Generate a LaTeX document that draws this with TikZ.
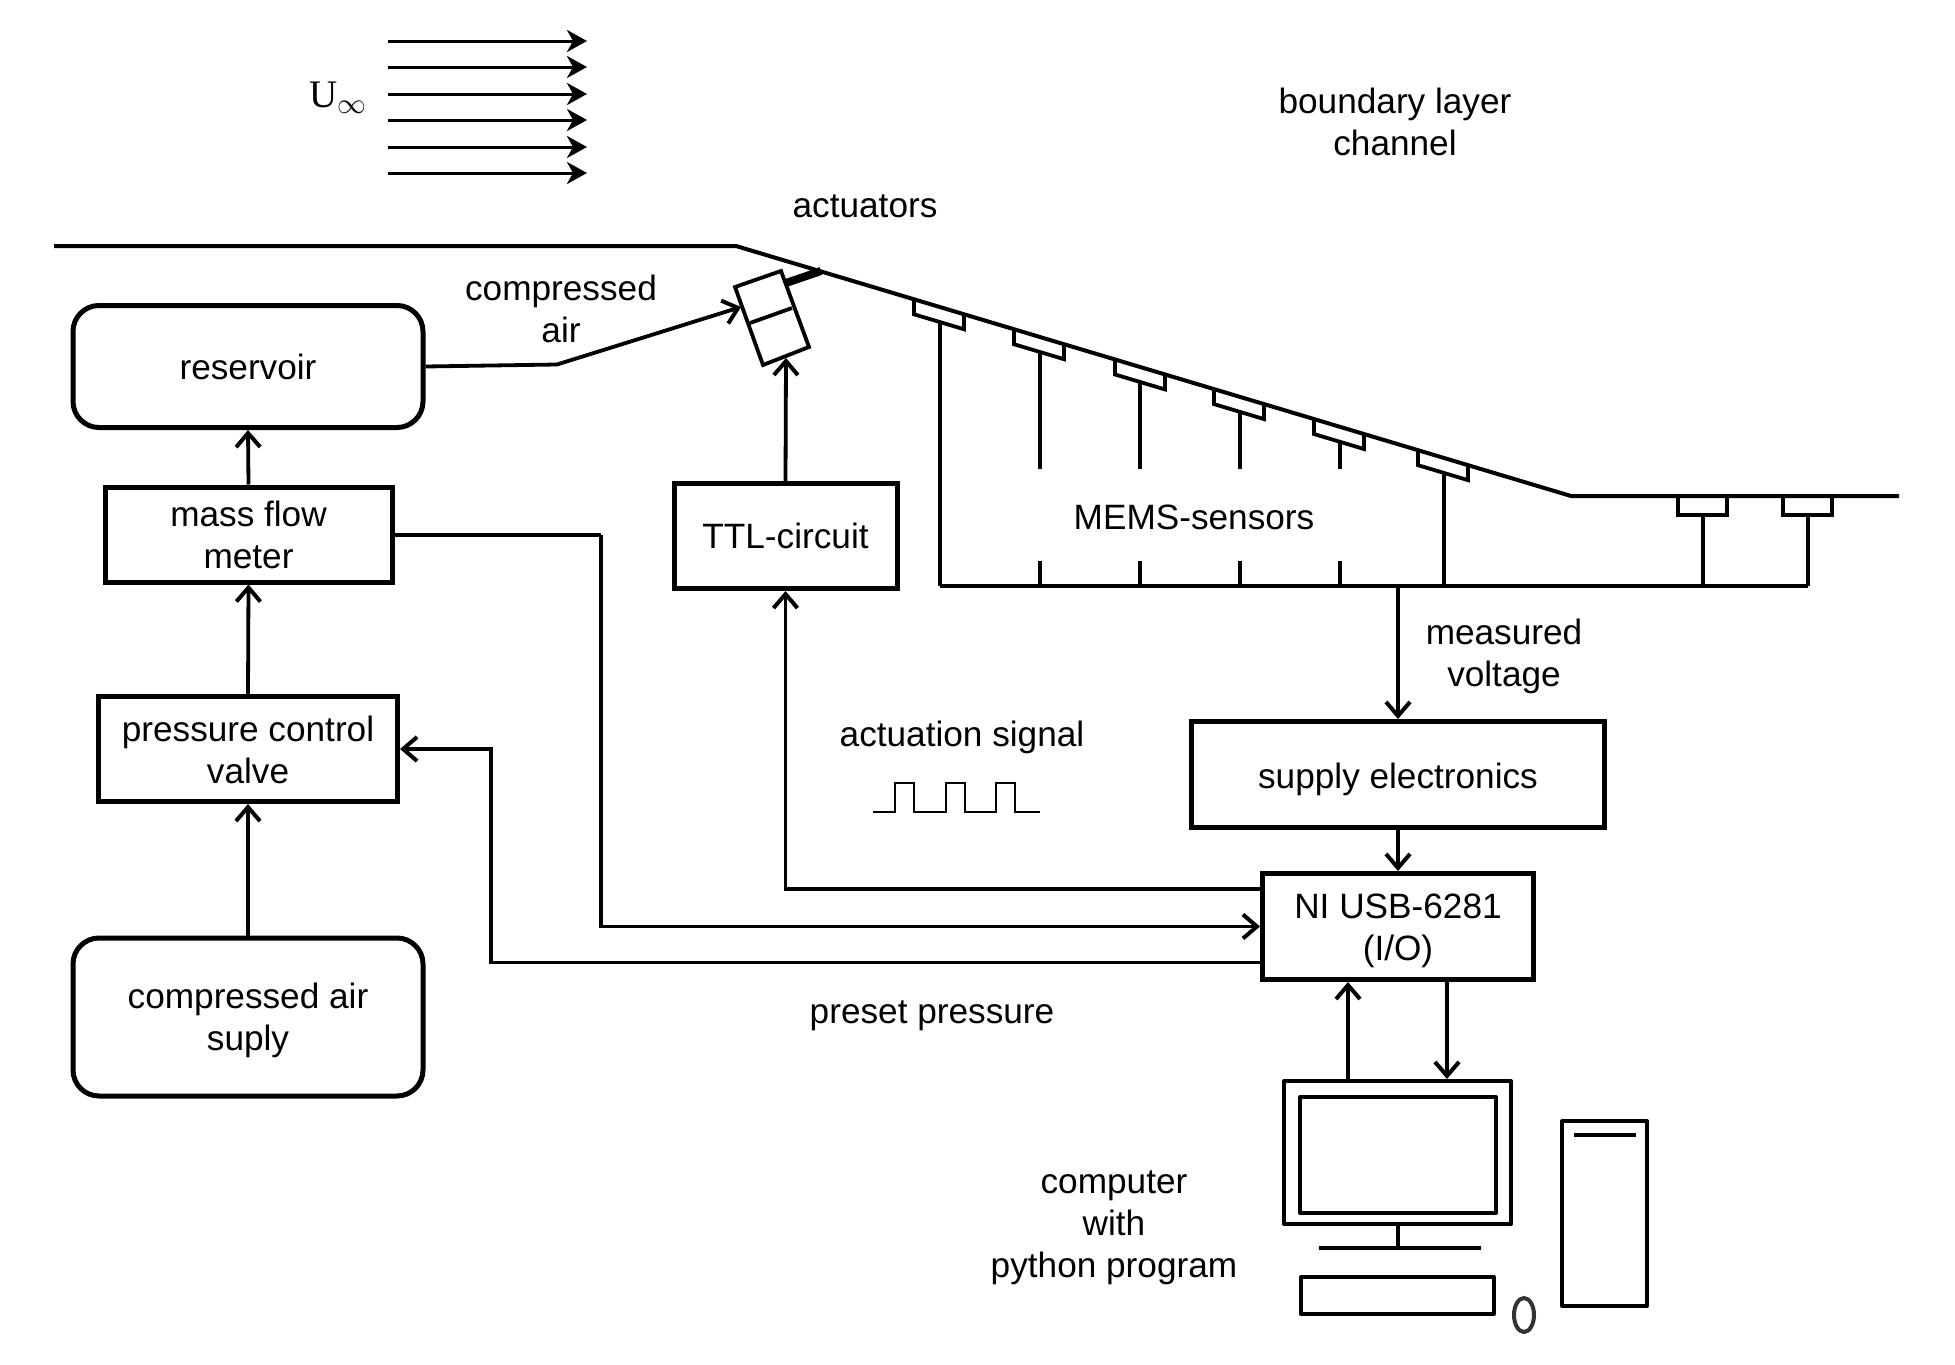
\documentclass[tikz,border=0pt]{standalone}
\usepackage{fontspec}
\setmainfont{Liberation Sans}
\newfontfamily\ufont{Liberation Serif}
\usetikzlibrary{arrows.meta,calc,shapes.geometric}
\newcommand{\lowtext}[2]{\raisebox{-#1}[\height][\depth]{\begin{tabular}{@{}c@{}}#2\end{tabular}}}
\tikzset{
  x=0.5pt,y=-0.5pt,
  every node/.style={font=\fontsize{17.6}{21}\selectfont,align=center,inner sep=0pt},
  thickbox/.style={draw,line width=2.5pt,line join=miter},
  roundbox/.style={thickbox,rounded corners=13pt},
  wire/.style={line width=1.9pt},
  sig/.style={wire,-{Straight Barb[length=7pt,width=12pt,line width=2pt]}},
  flow/.style={line width=1.5pt,-{Stealth[length=10pt,width=11pt,inset=3pt]}},
  wall/.style={line width=2pt,line join=miter},
  part/.style={line width=1.9pt,line join=miter},
  pc/.style={line width=2pt,line join=round},
}
\begin{document}
\begin{tikzpicture}
\useasboundingbox (0,0) rectangle (1955,1365);
% flow
\foreach \yy in {41,67,94,120,147,173}{
  \coordinate (fa) at (388,\yy); \coordinate (fb) at (587,\yy);
  \draw[flow] (fa) -- (fb);
}
\node (uinf) at (338,98) {\ufont\fontsize{19.5}{22}\selectfont U$_{\infty}$};
% labels
\node (blc) at (1395,122) {boundary layer\\channel};
\node (act) at (865,206) {actuators};
\node (cair) at (561,309) {compressed\\air};
\node (mems) at (1194,517) {MEMS-sensors};
\node (mv) at (1504,656) {measured\\voltage};
\node (asig) at (962,737) {actuation signal};
\node (pp) at (932,1016) {preset pressure};
\node (cwp) at (1114,1228) {computer\\with\\python program};
% boxes
\node[roundbox,minimum width=175pt,minimum height=61pt] (res) at (248,366.5) {\lowtext{2.4pt}{reservoir}};
\node[thickbox,minimum width=143.5pt,minimum height=47.5pt] (mfm) at (248.5,534.5) {\lowtext{2.4pt}{mass flow\\meter}};
\node[thickbox,minimum width=149.5pt,minimum height=52.5pt] (pcv) at (248,749) {\lowtext{2.4pt}{pressure control\\valve}};
\node[roundbox,minimum width=175pt,minimum height=79pt] (sup) at (248,1017) {\lowtext{2.2pt}{compressed air\\suply}};
\node[thickbox,minimum width=111.5pt,minimum height=52.5pt] (ttl) at (785.5,536) {TTL-circuit};
\node[thickbox,minimum width=206.5pt,minimum height=53pt] (se) at (1398,774.5) {\lowtext{3pt}{supply electronics}};
\node[thickbox,minimum width=135.5pt,minimum height=53pt] (ni) at (1398,926.5) {\lowtext{2.5pt}{NI USB-6281\\(I/O)}};
% wall
\coordinate (w0) at (54,246);
\coordinate (w1) at (736,246);
\coordinate (w2) at (1571,496);
\coordinate (w3) at (1899,496);
\draw[wall] (w0) -- (w1) -- (w2) -- (w3);
% sensors on slope
\coordinate (bus0) at (940,586);
\coordinate (bus1) at (1808,586);
\draw[wire] (bus0) -- (bus1);
\foreach \sx/\wx/\kind in {914/940/0,1014/1040/1,1115/1140/1,1214/1240/1,1314/1340/1,1418/1444/0}{
  \pgfmathsetmacro{\ya}{246+(\sx-736)*0.2994}
  \pgfmathsetmacro{\yb}{246+(\sx+50-736)*0.2994}
  \pgfmathsetmacro{\yw}{246+(\wx-736)*0.2994+15}
  \draw[part] (\sx,\ya) -- ++(0,15) -- (\sx+50,\yb+15) -- (\sx+50,\yb);
  \ifnum\kind=0
    \draw[wire] (\wx,\yw) -- (\wx,586);
  \else
    \draw[wire] (\wx,\yw) -- (\wx,469);
    \draw[wire] (\wx,561) -- (\wx,586);
  \fi
}
% flat sensors
\foreach \sx/\wx in {1678/1703,1783/1808}{
  \draw[part] (\sx,496) -- ++(0,19) -- ++(49,0) -- ++(0,-19);
  \draw[wire] (\wx,515) -- (\wx,586);
}
% actuator
\coordinate (a1) at (735,287);
\coordinate (a2) at (781,271);
\coordinate (a3) at (809,347);
\coordinate (a4) at (763,365);
\coordinate (am1) at (750,323);
\coordinate (am2) at (792,308);
\coordinate (noz1) at (786,283);
\coordinate (noz2) at (821,271);
\draw[part] (a1) -- (a2) -- (a3) -- (a4) -- cycle;
\draw[part] (am1) -- (am2);
\draw[line width=4pt] (noz1) -- (noz2);
% connectors
\coordinate (tap) at (557,364.5);
\coordinate (actin) at (741,307);
\coordinate (actb) at (786,358);
\draw[sig] (res.east) -- (tap) -- (actin);
\draw[sig] (ttl.north) -- (actb);
\draw[sig] (mfm.north) -- (res.south);
\draw[sig] (pcv.north) -- (mfm.south);
\draw[sig] (sup.north) -- (pcv.south);
\coordinate (busout) at (1398,586);
\draw[sig] (busout) -- (se.north);
\draw[sig] (se.south) -- (ni.north);
\coordinate (j1) at (601,535);
\draw[wire] (mfm.east |- j1) -- (j1);
\coordinate (j2) at (601,926.5);
\draw[sig] (j1) -- (j2) -- (ni.west);
\coordinate (nia) at (1262,889);
\draw[sig] (nia) -| (ttl.south);
\coordinate (nib) at (1262,962.5);
\coordinate (j3) at (491,962.5);
\coordinate (j4) at (491,749);
\draw[sig] (nib) -- (j3) -- (j4) -- (pcv.east);
% computer
\node[draw,pc,minimum width=113.5pt,minimum height=71.5pt] (mon) at (1397.5,1152.5) {};
\node[draw,pc,minimum width=98pt,minimum height=58pt] (scr) at (1398,1155) {};
\coordinate (st) at (1398,1248);
\coordinate (bl) at (1319,1248);
\coordinate (br) at (1481,1248);
\draw[pc] (mon.south -| st) -- (st);
\draw[line width=2pt] (bl) -- (br);
\node[draw,pc,minimum width=96.5pt,minimum height=18.5pt] (kb) at (1397.5,1295.5) {};
\node[draw=black!80,line width=2pt,ellipse,minimum width=10pt,minimum height=17pt] (mouse) at (1524,1315) {};
\node[draw,pc,minimum width=42.5pt,minimum height=92.5pt] (tow) at (1604.5,1213.5) {};
\coordinate (t1) at (1574,1135);
\coordinate (t2) at (1636,1135);
\draw[line width=2pt] (t1) -- (t2);
\coordinate (up) at (1348,980);
\coordinate (dn) at (1447,980);
\draw[sig] (up |- mon.north) -- (up |- ni.south);
\draw[sig] (dn |- ni.south) -- (dn |- mon.north);
% pulse
\coordinate (p0) at (873,812);
\coordinate (p1) at (1040,812);
\draw[line width=0.7pt] (p0) -- (895,812) -- (895,783) -- (914,783) -- (914,812) -- (946,812) -- (946,783) -- (965,783) -- (965,812) -- (996,812) -- (996,783) -- (1015,783) -- (1015,812) -- (p1);
\end{tikzpicture}
\end{document}
